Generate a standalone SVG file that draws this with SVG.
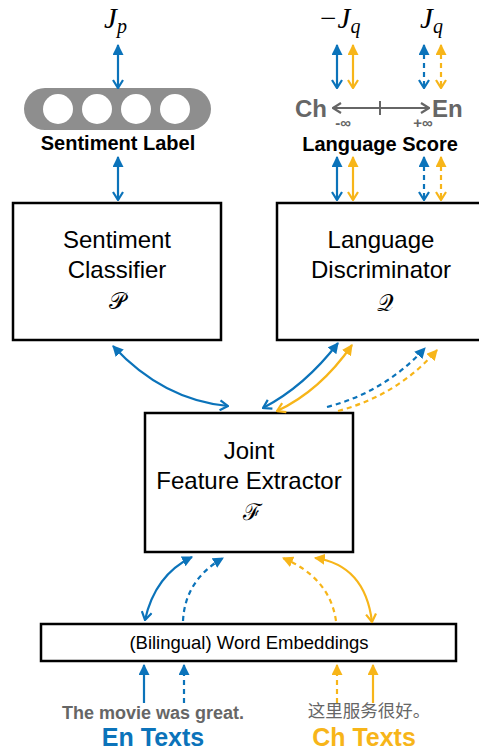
<svg xmlns="http://www.w3.org/2000/svg" width="479" height="751" viewBox="0 0 479 751">
<defs>
<style>
.box{fill:#fff;stroke:#000;stroke-width:2.5}
.t{font-family:"Liberation Sans",Arial,sans-serif;fill:#000}
.lbl{font-family:"Liberation Sans",Arial,sans-serif;font-weight:bold;fill:#000}
.math{font-family:"Liberation Serif","DejaVu Serif",serif;font-style:italic;fill:#000}
.cal{font-family:"DejaVu Serif","Liberation Serif",serif;fill:#000}
.gray{font-family:"Liberation Sans",Arial,sans-serif;font-weight:bold;fill:#666}
.b{fill:none;stroke:#0b73ba;stroke-width:2.2}
.y{fill:none;stroke:#f7b519;stroke-width:2.2}
.d{stroke-dasharray:5 4}
</style>
<marker id="fb" viewBox="0 0 10 10" refX="9" refY="5" markerWidth="11" markerHeight="11" markerUnits="userSpaceOnUse" orient="auto-start-reverse"><path d="M0,0 L10,5 L0,10 z" fill="#0b73ba"/></marker>
<marker id="fy" viewBox="0 0 10 10" refX="9" refY="5" markerWidth="11" markerHeight="11" markerUnits="userSpaceOnUse" orient="auto-start-reverse"><path d="M0,0 L10,5 L0,10 z" fill="#f7b519"/></marker>
<marker id="vb" viewBox="0 0 10 12" refX="9" refY="6" markerWidth="10" markerHeight="12" markerUnits="userSpaceOnUse" orient="auto-start-reverse"><path d="M1,1 L9,6 L1,11" fill="none" stroke="#0b73ba" stroke-width="2.2"/></marker>
<marker id="vy" viewBox="0 0 10 12" refX="9" refY="6" markerWidth="10" markerHeight="12" markerUnits="userSpaceOnUse" orient="auto-start-reverse"><path d="M1,1 L9,6 L1,11" fill="none" stroke="#f7b519" stroke-width="2.2"/></marker>
<marker id="vg" viewBox="0 0 10 12" refX="9" refY="6" markerWidth="10" markerHeight="12" markerUnits="userSpaceOnUse" orient="auto-start-reverse"><path d="M1,1 L9,6 L1,11" fill="none" stroke="#666" stroke-width="2.2"/></marker>
</defs>
<rect width="479" height="751" fill="#fff"/>

<g id="objective-p">
<text class="math" x="104" y="28" font-size="29">J<tspan font-size="20" dy="5">p</tspan></text>
</g>
<g id="objective-q">
<text class="math" x="318" y="28" font-size="29">−J<tspan font-size="20" dy="5">q</tspan></text>
<text class="math" x="420" y="28" font-size="29">J<tspan font-size="20" dy="5">q</tspan></text>
</g>

<g id="sentiment-label">
<rect x="24" y="88" width="187" height="42" rx="21" fill="#8e8e8e"/>
<circle cx="58" cy="109" r="15" fill="#fff"/>
<circle cx="97" cy="109" r="15" fill="#fff"/>
<circle cx="136" cy="109" r="15" fill="#fff"/>
<circle cx="175" cy="109" r="15" fill="#fff"/>
<text class="lbl" x="118" y="150" font-size="20" text-anchor="middle">Sentiment Label</text>
</g>

<g id="language-score">
<text class="gray" x="295" y="117" font-size="24">Ch</text>
<text class="gray" x="432" y="117" font-size="24">En</text>
<line x1="333" y1="108" x2="429" y2="108" stroke="#666" stroke-width="2.2" marker-start="url(#vg)" marker-end="url(#vg)"/>
<line x1="380" y1="101" x2="380" y2="115" stroke="#666" stroke-width="2"/>
<text class="gray" x="343" y="128" font-size="15" text-anchor="middle">-∞</text>
<text class="gray" x="423" y="128" font-size="15" text-anchor="middle">+∞</text>
<text class="lbl" x="380" y="151" font-size="20" text-anchor="middle">Language Score</text>
</g>

<g id="sentiment-classifier">
<rect class="box" x="13" y="203" width="208" height="137"/>
<text class="t" x="117" y="248" font-size="24" text-anchor="middle">Sentiment</text>
<text class="t" x="117" y="278" font-size="24" text-anchor="middle">Classifier</text>
<text class="cal" x="117" y="309" font-size="23" text-anchor="middle">𝒫</text>
</g>

<g id="language-discriminator">
<rect class="box" x="277" y="203" width="215" height="137"/>
<text class="t" x="381" y="248" font-size="24" text-anchor="middle">Language</text>
<text class="t" x="381" y="278" font-size="24" text-anchor="middle">Discriminator</text>
<text class="cal" x="385" y="311" font-size="23" text-anchor="middle">𝒬</text>
</g>

<g id="joint-feature-extractor">
<rect class="box" x="145" y="413" width="208" height="139"/>
<text class="t" x="249" y="459" font-size="24" text-anchor="middle">Joint</text>
<text class="t" x="249" y="489" font-size="24" text-anchor="middle">Feature Extractor</text>
<text class="cal" x="252" y="520" font-size="23" text-anchor="middle">ℱ</text>
</g>

<g id="word-embeddings">
<rect class="box" x="41" y="624" width="415" height="37"/>
<text class="t" x="249" y="649" font-size="18.5" text-anchor="middle">(Bilingual) Word Embeddings</text>
</g>

<g id="en-texts">
<text class="gray" x="153" y="719" font-size="18" text-anchor="middle">The movie was great.</text>
<text class="lbl" x="153" y="746" font-size="25" text-anchor="middle" style="fill:#0b73ba">En Texts</text>
</g>
<g id="ch-texts">
<text x="369" y="717" font-size="17.5" text-anchor="middle" font-family="'Noto Sans CJK SC','Liberation Sans',sans-serif" fill="#666">这里服务很好。</text>
<text class="lbl" x="364" y="746" font-size="25" text-anchor="middle" style="fill:#f7b519">Ch Texts</text>
</g>

<g id="connectors">
<path class="b" d="M118,45 L118,88" marker-start="url(#fb)" marker-end="url(#vb)"/>
<path class="b" d="M118,157 L118,200" marker-start="url(#fb)" marker-end="url(#vb)"/>
<path class="b" d="M337,45 L337,88" marker-start="url(#fb)" marker-end="url(#vb)"/>
<path class="y" d="M353,45 L353,88" marker-start="url(#fy)" marker-end="url(#vy)"/>
<path class="b d" d="M424,45 L424,88" marker-start="url(#fb)" marker-end="url(#vb)"/>
<path class="y d" d="M441,45 L441,88" marker-start="url(#fy)" marker-end="url(#vy)"/>
<path class="b" d="M337,157 L337,200" marker-start="url(#fb)" marker-end="url(#vb)"/>
<path class="y" d="M353,157 L353,200" marker-start="url(#fy)" marker-end="url(#vy)"/>
<path class="b d" d="M424,157 L424,200" marker-start="url(#fb)" marker-end="url(#vb)"/>
<path class="y d" d="M441,157 L441,200" marker-start="url(#fy)" marker-end="url(#vy)"/>

<path class="b" d="M113,346 Q163,400 228,406" marker-start="url(#fb)" marker-end="url(#vb)"/>
<path class="b" d="M338,343 Q305,386 263,408" marker-start="url(#fb)" marker-end="url(#vb)"/>
<path class="y" d="M352,345 Q320,391 277,411" marker-start="url(#fy)" marker-end="url(#vy)"/>
<path class="b d" d="M327,407 Q385,392 425,348" marker-end="url(#fb)"/>
<path class="y d" d="M338,411 Q398,395 437,350" marker-end="url(#fy)"/>

<path class="b" d="M192,557 Q155,575 145,620" marker-start="url(#fb)" marker-end="url(#vb)"/>
<path class="b d" d="M183,621 Q185,580 223,558" marker-end="url(#fb)"/>
<path class="y d" d="M336,621 Q330,578 283,558" marker-end="url(#fy)"/>
<path class="y" d="M315,558 Q365,565 372,622" marker-start="url(#fy)" marker-end="url(#vy)"/>

<path class="b" d="M144,703 L144,665" marker-end="url(#fb)"/>
<path class="b d" d="M184,703 L184,665" marker-end="url(#fb)"/>
<path class="y d" d="M337,703 L337,665" marker-end="url(#fy)"/>
<path class="y" d="M373,703 L373,665" marker-end="url(#fy)"/>
</g>
</svg>
